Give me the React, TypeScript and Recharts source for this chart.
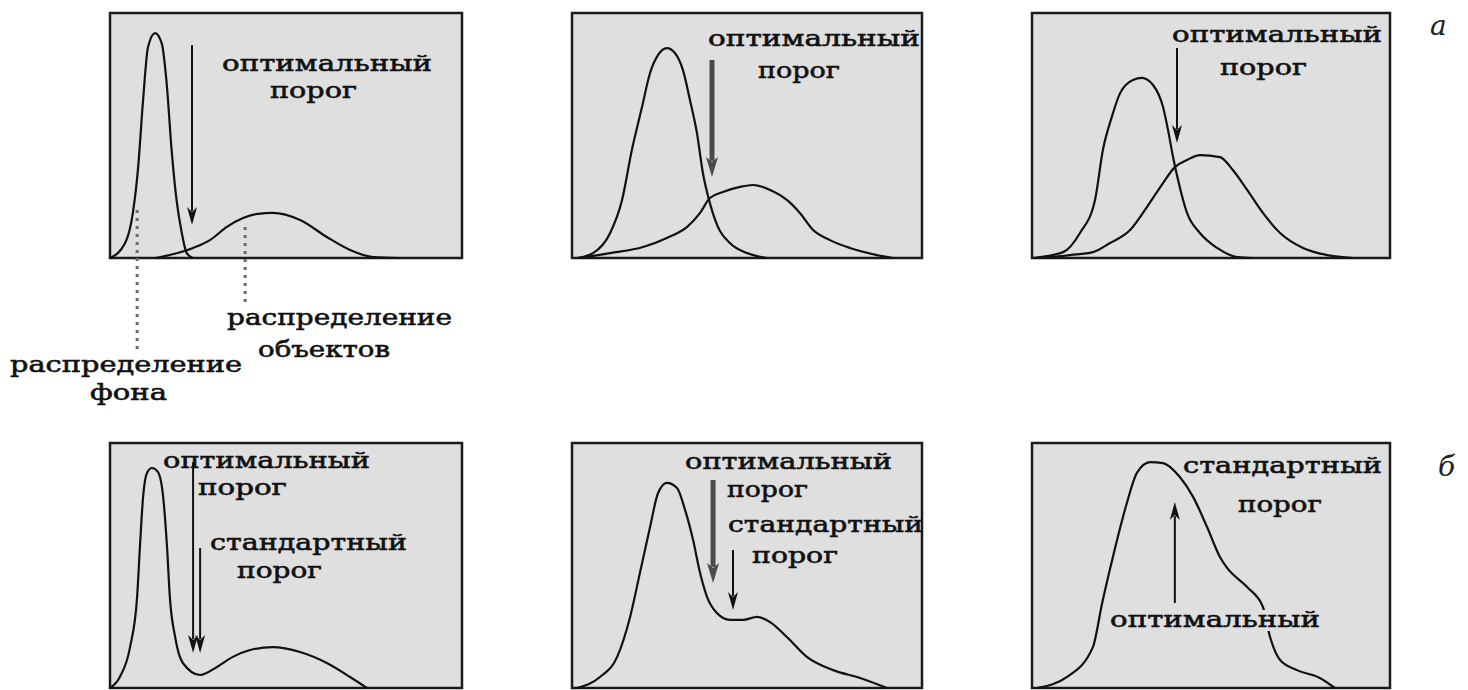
import React from "react";
import { LineChart, Line, XAxis, YAxis, ReferenceArea, ReferenceLine } from "recharts";

// x: brightness (0..100 across the frame), y: frequency (0..100 of frame height)

// (а) top row
const bg1X = [0, 4.3, 6.5, 8.0, 9.4, 10.8, 12.8, 14.7, 16.1, 17.5, 18.9, 20.4, 21.8, 23.6];
const bg1Y = [0, 6.1, 18.4, 37.1, 64.5, 86.1, 91.8, 87.6, 71.3, 44.1, 23.7, 10.2, 2.0, 0];
const obj1X = [13.0, 23.6, 28.4, 33.2, 37.8, 42.0, 46.3, 54.0, 61.6, 68.2, 74.7, 82.4];
const obj1Y = [0, 4.1, 7.3, 12.7, 16.3, 18.0, 18.4, 15.5, 8.6, 3.3, 0.4, 0];

const bg2X = [1.4, 6.0, 10.9, 14.3, 17.1, 20.0, 22.3, 24.6, 27.1, 29.4, 31.7, 33.7, 35.7, 37.4, 39.4, 41.7, 45.1, 50.0, 55.7];
const bg2Y = [0, 2.0, 10.2, 23.7, 44.1, 61.6, 75.5, 82.9, 85.7, 83.7, 76.7, 64.5, 51.0, 34.7, 22.4, 12.7, 6.1, 2.0, 0];
const obj2X = [2.3, 10.9, 20.3, 27.1, 32.9, 36.6, 39.4, 43.1, 48.0, 51.7, 56.6, 61.4, 65.1, 68.9, 73.7, 79.4, 87.1, 91.7];
const obj2Y = [0, 2.0, 4.5, 8.2, 12.7, 18.4, 24.5, 26.9, 29.0, 29.8, 27.8, 23.7, 18.4, 11.4, 7.3, 4.1, 1.2, 0];

const bg3X = [0.3, 8.7, 13.4, 17.6, 19.8, 22.3, 24.6, 28.2, 30.7, 33.8, 36.6, 38.0, 39.4, 40.8, 43.3, 46.9, 51.7, 57.3, 61.7];
const bg3Y = [0, 2.4, 10.2, 23.7, 44.1, 57.6, 67.3, 72.7, 73.5, 70.6, 61.6, 52.2, 41.2, 31.8, 18.4, 10.2, 4.1, 0.4, 0];
const obj3X = [3.1, 10.6, 17.0, 21.8, 27.4, 32.1, 36.6, 39.9, 43.3, 46.9, 52.5, 56.1, 60.1, 64.5, 69.3, 75.7, 82.4, 89.7];
const obj3Y = [0, 1.2, 2.4, 6.1, 11.4, 20.8, 30.6, 37.1, 40.0, 42.0, 41.2, 35.9, 27.8, 18.4, 10.2, 4.1, 1.2, 0];

// (б) bottom row
const hist4X = [0, 2.8, 5.7, 7.7, 8.5, 9.4, 10.5, 11.9, 13.6, 15.1, 16.2, 17.0, 18.5, 20.7, 25.6, 30.4, 34.9, 39.8, 46.3, 54.0, 61.6, 68.2, 73.0];
const hist4Y = [0, 4.5, 16.7, 37.1, 57.6, 78.0, 87.8, 89.8, 88.2, 78.0, 57.6, 37.1, 20.8, 10.2, 5.3, 8.6, 12.7, 15.5, 16.7, 14.7, 10.2, 4.5, 0];

const hist5X = [1.4, 8.0, 12.9, 16.6, 19.4, 22.3, 24.6, 27.1, 30.0, 32.3, 34.6, 36.6, 38.6, 41.4, 45.1, 48.9, 52.9, 56.6, 61.4, 67.1, 74.6, 82.3, 90.0];
const hist5Y = [0, 4.5, 12.7, 29.0, 46.9, 65.7, 79.6, 83.7, 81.6, 72.7, 60.4, 46.9, 37.1, 30.6, 27.8, 27.8, 29.0, 26.9, 20.8, 12.7, 7.3, 4.1, 0];

const hist6X = [1.4, 9.8, 17.0, 19.6, 22.6, 26.5, 29.3, 33.0, 36.6, 41.3, 45.0, 48.9, 52.5, 54.5, 60.1, 64.5, 66.5, 69.3, 74.0, 80.4, 84.6];
const hist6Y = [0, 4.5, 16.7, 34.7, 53.5, 75.5, 87.8, 92.2, 91.8, 86.1, 78.0, 65.7, 53.5, 49.0, 41.2, 33.1, 20.8, 11.4, 7.3, 4.1, 0];

// thresholds: [x, tail y, head y]
const opt1 = [23.3, 86.9, 13.5];
const opt2 = [40.0, 80.8, 33.1];
const opt3 = [40.5, 85.7, 46.9];
const opt4 = [23.6, 92.2, 14.3];
const std4 = [25.6, 57.1, 14.3];
const opt5 = [40.3, 84.9, 42.9];
const std5 = [46.0, 56.3, 31.8];
const opt6 = [39.9, 34.7, 75.9];

// dotted markers under panel 1: [x, top y, bottom y]
const bgMark = [7.7, 19.6, -37.6];
const objMark = [38.4, 12.7, -18.0];

const pts = (xs: number[], ys: number[]) => xs.map((x, i) => ({ x, y: ys[i] }));

const FRAME_H = 245;
const PAD = 6;
const FONT = "'DejaVu Serif', serif";
const PANEL_BG = "#dfdfdf";

type ArrowDef = { a: number[]; thick?: boolean };

const arrowShape = (thick: boolean) => (p: any) => {
  const { x1, y1, x2, y2 } = p;
  const dx = x2 - x1;
  const dy = y2 - y1;
  const len = Math.sqrt(dx * dx + dy * dy) || 1;
  const ux = dx / len;
  const uy = dy / len;
  const hl = thick ? 20 : 18;
  const hw = thick ? 6 : 5;
  const bx = x2 - ux * hl;
  const by = y2 - uy * hl;
  const col = thick ? "#4a4a4a" : "#111";
  return (
    <g>
      <line x1={x1} y1={y1} x2={bx + ux * 4} y2={by + uy * 4} stroke={col} strokeWidth={thick ? 5 : 2} />
      <polygon
        points={`${x2},${y2} ${bx - uy * hw},${by + ux * hw} ${bx + ux * 5},${by + uy * 5} ${bx + uy * hw},${by - ux * hw}`}
        fill={col}
      />
    </g>
  );
};

function Panel({
  left,
  top,
  width,
  extra = 0,
  series,
  arrows,
  marks = [],
}: {
  left: number;
  top: number;
  width: number;
  extra?: number;
  series: { x: number; y: number }[][];
  arrows: ArrowDef[];
  marks?: number[][];
}) {
  const xPad = (PAD / width) * 100;
  const yTop = (PAD / FRAME_H) * 100;
  const yBot = ((PAD + extra) / FRAME_H) * 100;
  return (
    <div style={{ position: "absolute", left: left - PAD, top: top - PAD }}>
      <LineChart width={width + 2 * PAD} height={FRAME_H + 2 * PAD + extra} margin={{ top: 0, right: 0, bottom: 0, left: 0 }}>
        <XAxis type="number" dataKey="x" domain={[-xPad, 100 + xPad]} hide allowDataOverflow />
        <YAxis type="number" domain={[-yBot, 100 + yTop]} hide allowDataOverflow />
        <ReferenceArea x1={0} x2={100} y1={0} y2={100} fill={PANEL_BG} fillOpacity={1} stroke="#1a1a1a" strokeWidth={2.5} />
        {marks.map((m, i) => (
          <ReferenceLine
            key={"m" + i}
            segment={[{ x: m[0], y: m[1] }, { x: m[0], y: m[2] }]}
            stroke="#6a6a6a"
            strokeWidth={3}
            strokeDasharray="3 5"
          />
        ))}
        {series.map((s, i) => (
          <Line
            key={i}
            data={s}
            dataKey="y"
            type="monotone"
            stroke="#111"
            strokeWidth={2.2}
            dot={false}
            activeDot={false}
            isAnimationActive={false}
          />
        ))}
        {arrows.map((ar, i) => (
          <ReferenceLine
            key={"a" + i}
            segment={[{ x: ar.a[0], y: ar.a[1] }, { x: ar.a[0], y: ar.a[2] }]}
            shape={arrowShape(!!ar.thick)}
          />
        ))}
      </LineChart>
    </div>
  );
}

// [text, left, right, baseline, opaque box]
const labels: [string, number, number, number, boolean?][] = [
  ["оптимальный", 222, 432, 71],
  ["порог", 270, 357, 98],
  ["оптимальный", 708, 920, 46],
  ["порог", 758, 840, 78],
  ["оптимальный", 1172, 1382, 42],
  ["порог", 1220, 1307, 75],
  ["распределение", 227, 452, 325],
  ["объектов", 258, 390, 357],
  ["распределение", 10, 242, 372],
  ["фона", 90, 167, 400],
  ["оптимальный", 163, 370, 468],
  ["порог", 198, 287, 495],
  ["стандартный", 210, 407, 550],
  ["порог", 237, 322, 578],
  ["оптимальный", 685, 892, 469],
  ["порог", 727, 808, 497],
  ["стандартный", 728, 923, 532],
  ["порог", 752, 838, 563],
  ["стандартный", 1183, 1382, 473],
  ["порог", 1238, 1322, 512],
  ["оптимальный", 1110, 1320, 627, true],
];

export default function App() {
  return (
    <div style={{ position: "absolute", left: 0, top: 0, width: 1468, height: 690, overflow: "hidden", background: "#fff" }}>
      <Panel left={110} top={13} width={352} extra={150} series={[pts(bg1X, bg1Y), pts(obj1X, obj1Y)]} arrows={[{ a: opt1 }]} marks={[bgMark, objMark]} />
      <Panel left={572} top={13} width={350} series={[pts(bg2X, bg2Y), pts(obj2X, obj2Y)]} arrows={[{ a: opt2, thick: true }]} />
      <Panel left={1032} top={13} width={358} series={[pts(bg3X, bg3Y), pts(obj3X, obj3Y)]} arrows={[{ a: opt3 }]} />
      <Panel left={110} top={443} width={352} series={[pts(hist4X, hist4Y)]} arrows={[{ a: opt4 }, { a: std4 }]} />
      <Panel left={572} top={443} width={350} series={[pts(hist5X, hist5Y)]} arrows={[{ a: opt5, thick: true }, { a: std5 }]} />
      <Panel left={1032} top={443} width={358} series={[pts(hist6X, hist6Y)]} arrows={[{ a: opt6 }]} />
      <svg width={1468} height={690} style={{ position: "absolute", left: 0, top: 0, pointerEvents: "none" }}>
        {labels.map(([t, x1, x2, y, box], i) => (
          <g key={i}>
            {box && <rect x={x1 - 3} y={y - 17} width={x2 - x1 + 6} height={21} fill={PANEL_BG} />}
            <text
              x={x1}
              y={y}
              textLength={x2 - x1}
              lengthAdjust="spacingAndGlyphs"
              fontFamily={FONT}
              fontSize={23}
              fill="#111"
              stroke="#111"
              strokeWidth={0.6}
            >
              {t}
            </text>
          </g>
        ))}
        <text x={1430} y={35} fontFamily={FONT} fontStyle="italic" fontSize={28} fill="#222">а</text>
        <text x={1438} y={476} fontFamily={FONT} fontStyle="italic" fontSize={28} fill="#222">б</text>
      </svg>
    </div>
  );
}
